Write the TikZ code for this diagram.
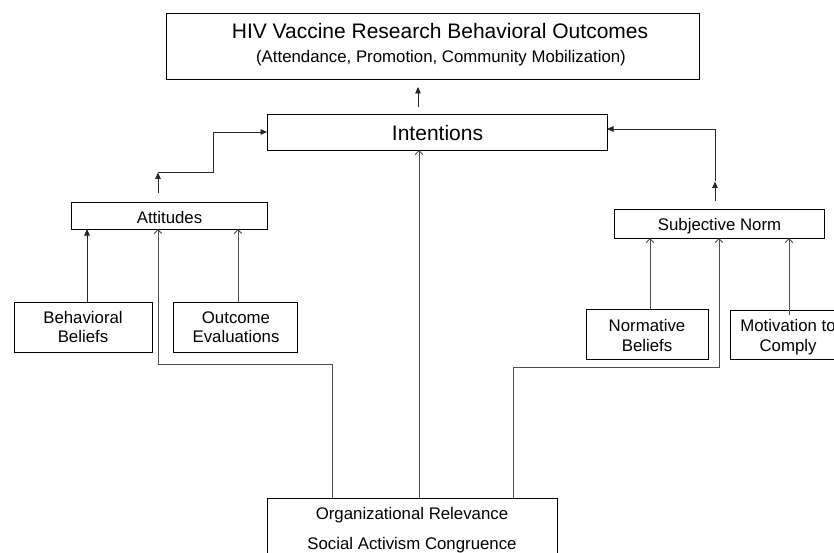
\documentclass[tikz,border=0pt]{standalone}
\usepackage{fontspec}
\setmainfont{Liberation Sans}
\usetikzlibrary{arrows.meta}
\begin{document}
\begin{tikzpicture}[x=1pt,y=-1pt,
  box/.style={draw=black,line width=0.9pt,inner sep=0pt,outer sep=0pt},
  lbl/.style={anchor=base,inner sep=0pt,font=\fontsize{16.8}{19}\selectfont},
  big/.style={anchor=base,inner sep=0pt,font=\fontsize{21}{25}\selectfont},
  fa/.style={draw=black!85,line width=0.9pt,-{Triangle[length=6.5pt,width=5.5pt]}},
  oa/.style={draw=black!70,line width=0.9pt,-{Straight Barb[length=4pt,width=7.5pt,line width=0.9pt]}},
  ln/.style={draw=black!85,line width=0.9pt}]
\useasboundingbox (0,0) rectangle (834,553);
\clip (0,0) rectangle (834,553);
\fill[white] (0,0) rectangle (834,553);

% boxes
\node[box,minimum width=533pt,minimum height=66pt] (out) at (432.5,46) {};
\node[box,minimum width=340pt,minimum height=36pt] (int) at (437,132) {};
\node[box,minimum width=196pt,minimum height=27pt] (att) at (169,215.5) {};
\node[box,minimum width=210pt,minimum height=29pt] (sn) at (719,223.5) {};
\node[box,minimum width=138pt,minimum height=50pt] (bb) at (83,327) {};
\node[box,minimum width=124pt,minimum height=50pt] (oe) at (235,327) {};
\node[box,minimum width=122pt,minimum height=50pt] (nb) at (647,334.5) {};
\node[box,minimum width=118pt,minimum height=49pt] (mc) at (789,334.5) {};
\node[box,minimum width=290pt,minimum height=66pt] (org) at (412,531) {};

% texts
\node[big] (t1) at (440,38.5) {HIV Vaccine Research Behavioral Outcomes};
\node[lbl] (t2) at (441,62.5) {(Attendance, Promotion, Community Mobilization)};
\node[big] (ti) at (437.5,141) {Intentions};
\node[lbl] (ta) at (169.5,223) {Attitudes};
\node[lbl] (ts) at (719.5,230) {Subjective Norm};
\node[lbl] (tb1) at (83,323) {Behavioral};
\node[lbl] (tb2) at (83,342) {Beliefs};
\node[lbl] (to1) at (236,323) {Outcome};
\node[lbl] (to2) at (236,342) {Evaluations};
\node[lbl] (tn1) at (647,331) {Normative};
\node[lbl] (tn2) at (647,351) {Beliefs};
\node[lbl] (tm1) at (788,331) {Motivation to};
\node[lbl] (tm2) at (788,351) {Comply};
\node[lbl] (tr1) at (412,519) {Organizational Relevance};
\node[lbl] (tr2) at (412,549) {Social Activism Congruence};

% coordinates
\coordinate (u1) at (418,107);
\coordinate (u2) at (418,87);
\coordinate (a1) at (158,193);
\coordinate (a2) at (158,172);
\coordinate (a3) at (213,172);
\coordinate (s1) at (715,201);
\coordinate (s2) at (715,181);
\coordinate (k1) at (158,364);
\coordinate (k2) at (719,367);

% connectors
\draw[fa] (u1) -- (u2);
\draw[fa] (a1) -- ([yshift=-0.5pt]a2);
\draw[ln] (a2) -- (a3) -- (a3 |- int.west);
\draw[fa] (a3 |- int.west) -- (int.west);
\draw[fa] (s1) -- ([yshift=-0.5pt]s2);
\draw[fa] (s2) |- ([yshift=3pt]int.east);

\draw[fa] ([xshift=4pt]bb.north) -- ([xshift=4pt]bb.north |- att.south);
\draw[oa] ([xshift=3pt]oe.north) -- ([xshift=3pt]oe.north |- att.south);
\draw[oa] ([xshift=3pt]nb.north) -- ([xshift=3pt]nb.north |- sn.south);
\draw[oa] ([yshift=-5pt]mc.north) -- (mc.north |- sn.south);

\draw[oa] ([xshift=-80pt]org.north) |- (k1) -- (k1 |- att.south);
\draw[oa] ([xshift=7pt]org.north) -- ([xshift=7pt]org.north |- int.south);
\draw[oa] ([xshift=101pt]org.north) |- (k2) -- (sn.south);
\end{tikzpicture}
\end{document}
